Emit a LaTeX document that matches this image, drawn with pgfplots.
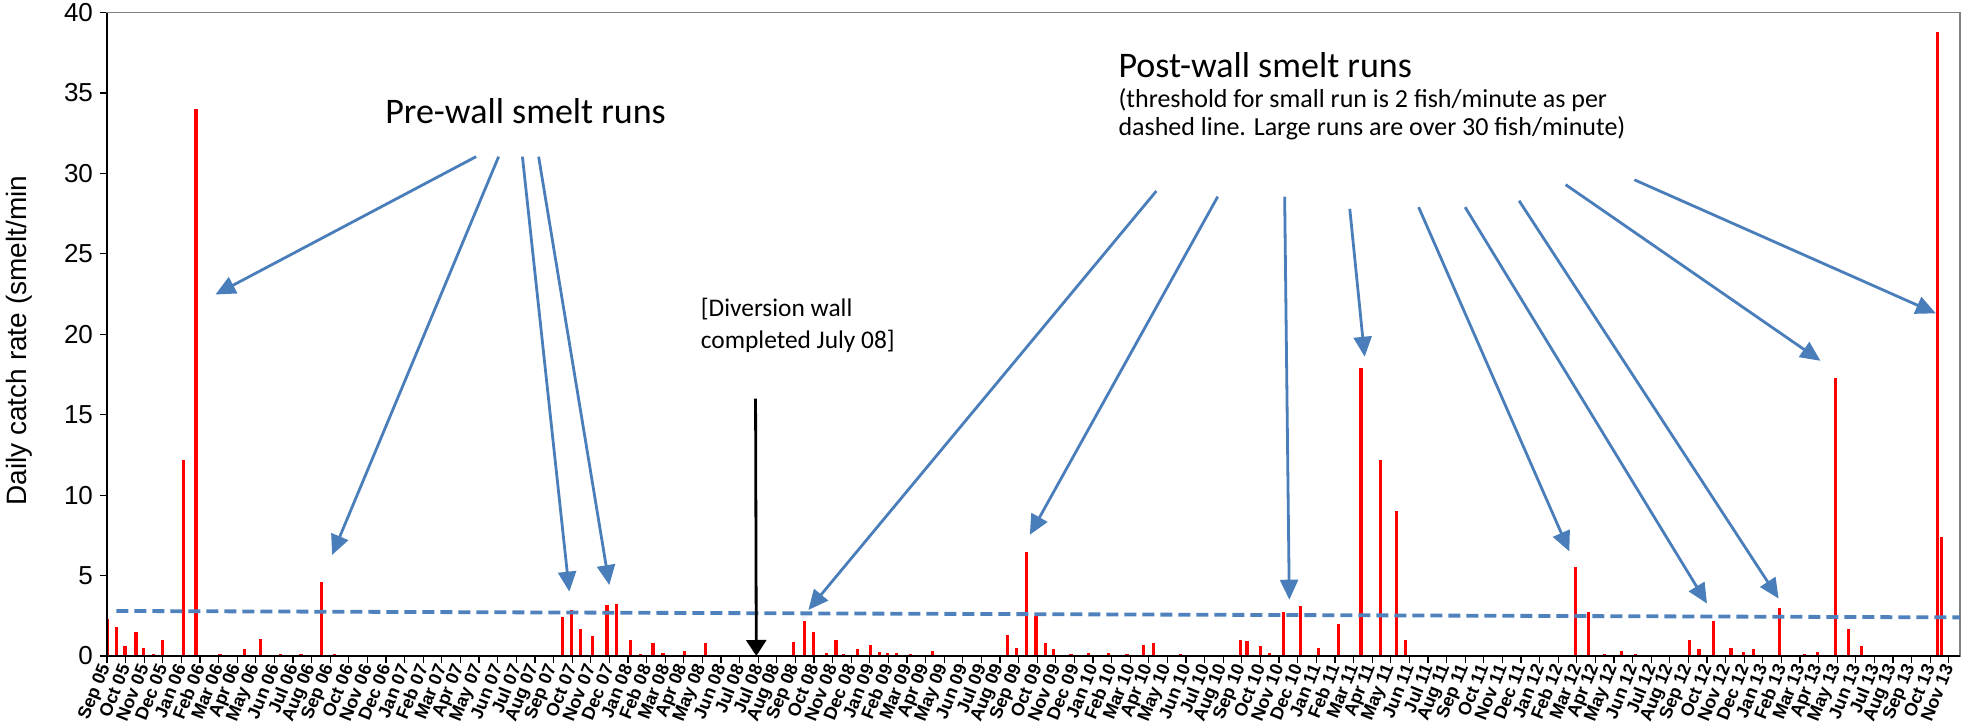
\documentclass[border=0pt]{standalone}
\usepackage{pgfplots}
\pgfplotsset{compat=1.18}
\usepackage{fontspec}
\setmainfont{Liberation Sans}
\newfontfamily\calibri{Carlito}
\usetikzlibrary{arrows.meta}
\definecolor{arrowblue}{HTML}{4A7EBB}
\definecolor{dashblue}{HTML}{4F81BD}
\begin{document}
\begin{tikzpicture}
\begin{axis}[
  at={(0,0)}, anchor=south west,
  scale only axis, width=926.5pt, height=321.75pt,
  xmin=0, xmax=99.6, ymin=0, ymax=40,
  xtick={0,...,99},
  xticklabels={Sep 05,Oct 05,Nov 05,Dec 05,Jan 06,Feb 06,Mar 06,Apr 06,May 06,Jun 06,Jul 06,Aug 06,Sep 06,Oct 06,Nov 06,Dec 06,Jan 07,Feb 07,Mar 07,Apr 07,May 07,Jun 07,Jul 07,Aug 07,Sep 07,Oct 07,Nov 07,Dec 07,Jan 08,Feb 08,Mar 08,Apr 08,May 08,Jun 08,Jul 08,Jul 08,Aug 08,Sep 08,Oct 08,Nov 08,Dec 08,Jan 09,Feb 09,Mar 09,Apr 09,May 09,Jun 09,Jul 09,Aug 09,Sep 09,Oct 09,Nov 09,Dec 09,Jan 10,Feb 10,Mar 10,Apr 10,May 10,Jun 10,Jul 10,Aug 10,Sep 10,Oct 10,Nov 10,Dec 10,Jan 11,Feb 11,Mar 11,Apr 11,May 11,Jun 11,Jul 11,Aug 11,Sep 11,Oct 11,Nov 11,Dec 11,Jan 12,Feb 12,Mar 12,Apr 12,May 12,Jun 12,Jul 12,Aug 12,Sep 12,Oct 12,Nov 12,Dec 12,Jan 13,Feb 13,Mar 13,Apr 13,May 13,Jun 13,Jul 13,Aug 13,Sep 13,Oct 13,Nov 13},
  ytick={0,5,...,40},
  tick align=outside, xtick pos=bottom, ytick pos=left,
  x tick style={black, line width=0.6pt},
  y tick style={black, line width=0.6pt},
  major tick length=3.5pt,
  /pgf/number format/assume math mode=true,
  yticklabel style={font=\fontsize{13}{13}\selectfont},
  xticklabel style={font=\fontsize{9}{9}\selectfont\bfseries, rotate=68, anchor=east, inner sep=1pt},
  ylabel={Daily catch rate (smelt/min},
  ylabel style={font=\fontsize{14}{14}\selectfont, at={(axis description cs:-0.0475,0.49)}, anchor=center},
  axis line style={draw=gray, line width=0.6pt},
  clip=false,
]
\addplot[ycomb, red, line width=1.6pt, mark=none] coordinates {
(0.02,2.3) (0.52,1.78) (0.97,0.62) (1.56,1.51) (1.97,0.52) (2.49,0.12) (2.99,0.99)
(4.10,12.2) (4.78,34.0) (6.07,0.1) (7.37,0.41) (8.23,1.08) (9.33,0.1) (10.43,0.1)
(11.54,4.62) (12.22,0.1)
(24.48,2.45) (24.98,2.86) (25.43,1.68) (26.11,1.26) (26.87,3.15) (27.38,3.25)
(28.15,0.99) (28.69,0.12) (29.35,0.79) (29.88,0.2) (30.3,0.08) (31.04,0.3) (32.18,0.79)
(36.9,0.89) (37.47,2.18) (37.97,1.51) (38.66,0.2) (39.18,0.99) (39.59,0.1) (40.36,0.41)
(41.02,0.68) (41.51,0.25) (41.97,0.2) (42.45,0.2) (43.17,0.1) (44.37,0.33)
(48.42,1.28) (48.9,0.52) (49.41,6.45) (49.93,2.49) (50.43,0.79) (50.86,0.41)
(51.81,0.12) (52.76,0.2) (53.84,0.2) (54.82,0.1) (55.72,0.68) (56.25,0.79) (57.69,0.1)
(60.91,0.99) (61.27,0.91) (62.02,0.6) (62.47,0.2) (63.24,2.76) (64.15,3.13)
(65.1,0.5) (66.2,1.97) (67.4,17.9) (68.44,12.2) (69.3,9.0) (69.8,0.99)
(78.94,5.51) (79.64,2.76) (80.48,0.1) (81.4,0.33) (82.15,0.1)
(85.07,0.99) (85.57,0.41) (86.36,2.18) (87.29,0.5) (87.97,0.25) (88.48,0.41)
(89.89,2.96) (91.24,0.1) (91.95,0.25) (92.9,17.3) (93.6,1.66) (94.29,0.6)
(98.4,38.8) (98.6,7.4)
};
\addplot[dashblue, line width=1.9pt, dash pattern=on 6pt off 3pt, mark=none] coordinates {(0.5,2.8) (99.6,2.4)};
\draw[black, line width=0.9pt] (rel axis cs:0,1) -- (rel axis cs:0,0) -- (rel axis cs:1,0);
% pre-wall arrows
\draw[arrowblue, line width=1.4pt, -{Triangle[length=10pt,width=9pt]}] (axis cs:19.84,31.04) -- (axis cs:5.83,22.47);
\draw[arrowblue, line width=1.4pt, -{Triangle[length=10pt,width=9pt]}] (axis cs:21.05,31.04) -- (axis cs:12.1,6.28);
\draw[arrowblue, line width=1.4pt, -{Triangle[length=10pt,width=9pt]}] (axis cs:22.33,31.04) -- (axis cs:24.85,4.0);
\draw[arrowblue, line width=1.4pt, -{Triangle[length=10pt,width=9pt]}] (axis cs:23.2,31.04) -- (axis cs:27.0,4.41);
% post-wall arrows
\draw[arrowblue, line width=1.4pt, -{Triangle[length=10pt,width=9pt]}] (axis cs:56.4,28.9) -- (axis cs:37.7,2.86);
\draw[arrowblue, line width=1.4pt, -{Triangle[length=10pt,width=9pt]}] (axis cs:59.7,28.55) -- (axis cs:49.6,7.53);
\draw[arrowblue, line width=1.4pt, -{Triangle[length=10pt,width=9pt]}] (axis cs:63.3,28.55) -- (axis cs:63.55,3.5);
\draw[arrowblue, line width=1.4pt, -{Triangle[length=10pt,width=9pt]}] (axis cs:66.8,27.8) -- (axis cs:67.6,18.6);
\draw[arrowblue, line width=1.4pt, -{Triangle[length=10pt,width=9pt]}] (axis cs:70.5,27.9) -- (axis cs:78.6,6.5);
\draw[arrowblue, line width=1.4pt, -{Triangle[length=10pt,width=9pt]}] (axis cs:73.0,27.9) -- (axis cs:86.0,3.26);
\draw[arrowblue, line width=1.4pt, -{Triangle[length=10pt,width=9pt]}] (axis cs:75.9,28.3) -- (axis cs:89.85,3.57);
\draw[arrowblue, line width=1.4pt, -{Triangle[length=10pt,width=9pt]}] (axis cs:78.4,29.3) -- (axis cs:92.1,18.35);
\draw[arrowblue, line width=1.4pt, -{Triangle[length=10pt,width=9pt]}] (axis cs:82.1,29.6) -- (axis cs:98.3,21.3);
% diversion wall arrow
\draw[black, line width=1.4pt, -{Triangle[length=8pt,width=10pt]}] (axis cs:34.86,16.0) -- (axis cs:34.9,0);
% texts
\node[inner sep=0pt, anchor=center, font=\calibri\fontsize{18}{18}\selectfont] at (axis cs:22.5,33.9) {Pre-wall smelt runs};
\node[inner sep=0pt, anchor=west, font=\calibri\fontsize{18}{18}\selectfont] at (axis cs:54.35,36.7) {Post-wall smelt runs};
\node[inner sep=0pt, anchor=west, font=\calibri\fontsize{13}{13}\selectfont] at (axis cs:54.35,34.55) {(threshold for small run is 2 fish/minute as per};
\node[inner sep=0pt, anchor=west, font=\calibri\fontsize{13}{13}\selectfont] at (axis cs:54.35,32.83) {dashed line. Large runs are over 30 fish/minute)};
\node[inner sep=0pt, anchor=west, font=\calibri\fontsize{12.7}{12.7}\selectfont] at (axis cs:31.9,21.57) {[Diversion wall};
\node[inner sep=0pt, anchor=west, font=\calibri\fontsize{12.7}{12.7}\selectfont] at (axis cs:31.9,19.58) {completed July 08]};
\end{axis}
\pgfresetboundingbox
\path[use as bounding box] (-53.5pt,-34pt) rectangle (928.5pt,328pt);
\end{tikzpicture}
\end{document}
